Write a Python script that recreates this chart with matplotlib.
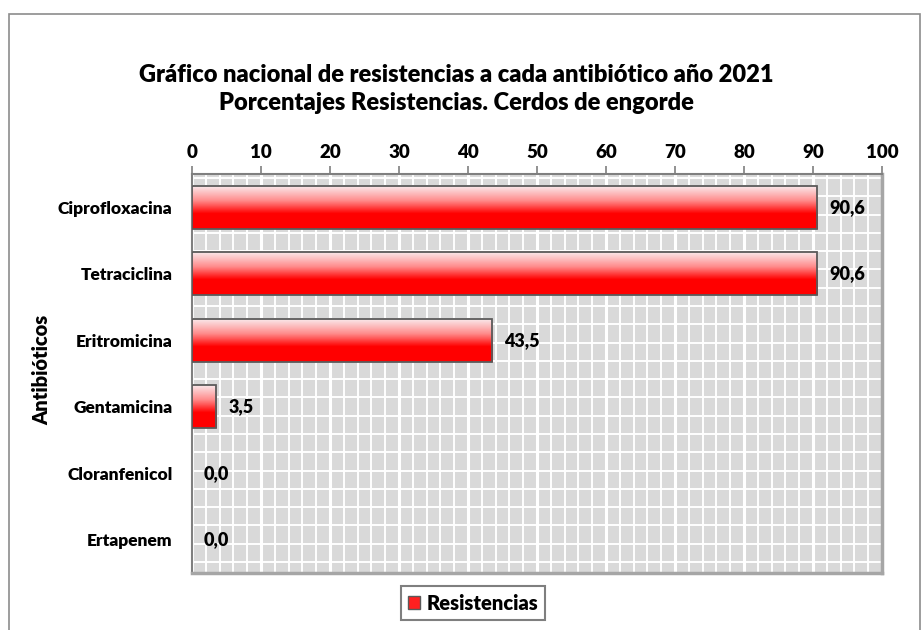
import numpy as np
import matplotlib
matplotlib.use("Agg")
import matplotlib.pyplot as plt
from matplotlib.patches import Rectangle, Patch
from matplotlib.colors import LinearSegmentedColormap

categories = ["Ciprofloxacina", "Tetraciclina", "Eritromicina", "Gentamicina", "Cloranfenicol", "Ertapenem"]
values = [90.6, 90.6, 43.5, 3.5, 0.0, 0.0]
value_labels = ["90,6", "90,6", "43,5", "3,5", "0,0", "0,0"]
xticks = list(range(0, 101, 10))
title = "Gráfico nacional de resistencias a cada antibiótico año 2021\nPorcentajes Resistencias. Cerdos de engorde"
ylabel = "Antibióticos"
legend_label = "Resistencias"

WT = 'heavy'
plt.rcParams['font.family'] = ['Lato', 'DejaVu Sans']
plt.rcParams['font.weight'] = WT

W, H = 922, 630
fig = plt.figure(figsize=(W / 100, H / 100), dpi=100)
fig.patch.set_facecolor('white')

# outer border
fig.add_artist(Rectangle((9 / W, -0.05), (920 - 9) / W, 1.05 - 14 / H, transform=fig.transFigure,
                         fill=False, edgecolor='#8c8c8c', lw=1.2))

L, R, T, B = 192, 882, 174, 573
ax = fig.add_axes([L / W, 1 - B / H, (R - L) / W, (B - T) / H])
ax.set_facecolor('#d9d9d9')
n = len(categories)
ax.set_xlim(0, 100)
ax.set_ylim(n - 0.5, -0.5)

# grid
ax.set_xticks(xticks)
ax.set_xticks(np.arange(0, 101, 2), minor=True)
ypx = np.linspace(178, 562, 22)
ax.set_yticks(-0.5 + (ypx - T) / (B - T) * n, minor=True)
ax.grid(which='major', axis='x', color='white', lw=2.2)
ax.grid(which='minor', axis='both', color='white', lw=1.4)
ax.set_axisbelow(True)

ax.xaxis.tick_top()
ax.tick_params(axis='x', which='major', direction='out', length=6, width=1.2, color='#7f7f7f',
               labelsize=13.5, pad=3)
ax.tick_params(axis='both', which='minor', length=0)
for lab in ax.get_xticklabels():
    lab.set_fontweight(WT)
ax.set_yticks(range(n))
ax.set_yticklabels(categories, fontsize=12.5, fontweight=WT)
ax.tick_params(axis='y', which='major', length=0, pad=14)

for s in ['top', 'left']:
    ax.spines[s].set_color('#7f7f7f')
    ax.spines[s].set_linewidth(1.5)
for s in ['right', 'bottom']:
    ax.spines[s].set_color('#a6a6a6')
    ax.spines[s].set_linewidth(2.5)

# gradient bars
cmap = LinearSegmentedColormap.from_list('g', [(0.0, (0.98, 0.93, 0.94)), (0.35, (1.0, 0.55, 0.55)),
                                                (0.65, (1.0, 0.0, 0.0)), (1.0, (1.0, 0.0, 0.0))])
grad = np.linspace(0, 1, 64).reshape(-1, 1)
bh = 0.65
for i, v in enumerate(values):
    if v > 0:
        ax.imshow(grad, cmap=cmap, aspect='auto', extent=(0, v, i + bh / 2, i - bh / 2),
                  origin='upper', interpolation='bilinear', zorder=3)
        ax.add_patch(Rectangle((0, i - bh / 2), v, bh, fill=False, edgecolor='#5a5a5a', lw=1.3, zorder=4))
    ax.annotate(value_labels[i], (v, i), xytext=(12, 0), textcoords='offset pixels',
                va='center', ha='left', fontsize=13, fontweight=WT, zorder=5)

ax.set_xlim(0, 100)
ax.set_ylim(n - 0.5, -0.5)

fig.text(456 / W, 1 - 89 / H, title, ha='center', va='center', fontsize=17, fontweight=WT, linespacing=1.28)
fig.text(42 / W, 1 - 370 / H, ylabel, ha='center', va='center', rotation=90, fontsize=14.5, fontweight=WT)

# legend
h = Patch(facecolor='#ff2020', edgecolor='#5a5a5a', lw=1)
leg = fig.legend([h], [legend_label], loc='center', bbox_to_anchor=(473 / W, 1 - 603 / H),
                 fancybox=False, edgecolor='#7f7f7f', framealpha=1, prop={'weight': WT, 'size': 14.5},
                 handlelength=0.6, handleheight=0.6, handletextpad=0.3, borderpad=0.35, borderaxespad=0)
leg.get_frame().set_linewidth(1.5)

fig.savefig('out.png', dpi=100)
